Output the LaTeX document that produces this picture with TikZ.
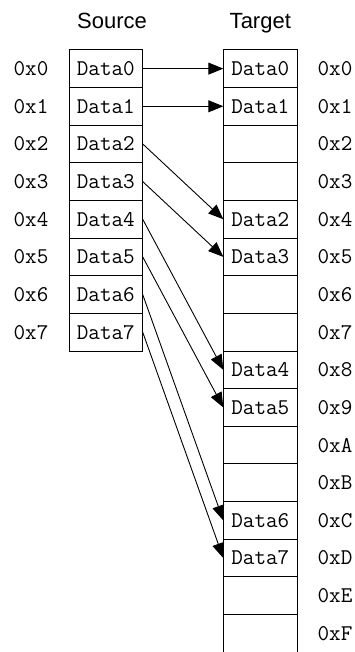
\documentclass[tikz,border=0pt]{standalone}
\usepackage{fontspec}
\setsansfont{Liberation Sans}
\usetikzlibrary{arrows.meta}
\begin{document}
\begin{tikzpicture}[x=1pt,y=-1pt,
  cell/.style={draw, line width=1pt, minimum width=73.7pt, minimum height=37.65pt, inner sep=0pt, outer sep=0pt, font=\fontsize{22.5}{26}\selectfont\ttfamily},
  tcell/.style={cell, minimum width=74pt},
  addr/.style={inner sep=0pt, font=\fontsize{22.5}{26}\selectfont\ttfamily},
  head/.style={inner sep=0pt, anchor=base, font=\fontsize{22}{26}\selectfont\sffamily},
  arr/.style={line width=0.9pt, -{Triangle[length=15pt,width=12pt]}}]
\useasboundingbox (0,0) rectangle (354,652);
\def\rtop{49.8}
\def\rh{37.65}
% headers
\node[head] (hs) at (112,28.3) {Source};
\node[head] (ht) at (260.3,28.3) {Target};
% source cells
\foreach \i in {0,...,7} {
  \node[cell] (s\i) at (105.85,{\rtop+\rh*(\i+0.5)}) {Data\i};
  \node[addr] (sa\i) at (31,{\rtop+\rh*(\i+0.5)}) {0x\i};
}
% target cells
\foreach \i/\t in {0/Data0,1/Data1,2/,3/,4/Data2,5/Data3,6/,7/,8/Data4,9/Data5,10/,11/,12/Data6,13/Data7,14/} {
  \node[tcell] (t\i) at (260.3,{\rtop+\rh*(\i+0.5)}) {\t};
}
\node[tcell, draw=none] (t15) at (260.3,{\rtop+\rh*15.5}) {};
\draw[line width=1pt] (t15.north west) -- (t15.south west);
\draw[line width=1pt] (t15.north east) -- (t15.south east);
\foreach \i/\a in {0/0,1/1,2/2,3/3,4/4,5/5,6/6,7/7,8/8,9/9,10/A,11/B,12/C,13/D,14/E,15/F} {
  \node[addr] (ta\i) at (335,{\rtop+\rh*(\i+0.5)}) {0x\a};
}
% arrows
\draw[arr] (s0.east) -- (t0.west);
\draw[arr] (s1.east) -- (t1.west);
\draw[arr] (s2.east) -- (t4.west);
\draw[arr] (s3.east) -- (t5.west);
\draw[arr] (s4.east) -- (t8.west);
\draw[arr] (s5.east) -- (t9.west);
\draw[arr] (s6.east) -- (t12.west);
\draw[arr] (s7.east) -- (t13.west);
\end{tikzpicture}
\end{document}
